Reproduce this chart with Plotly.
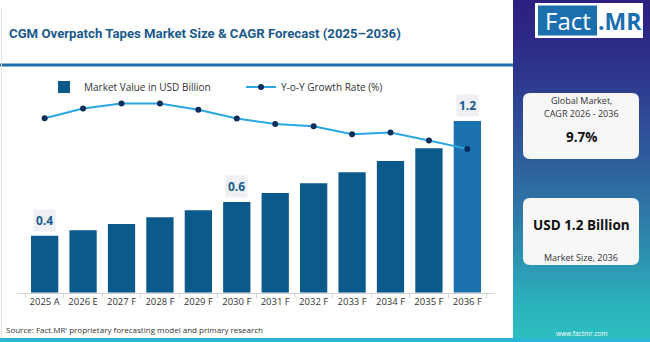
import plotly.graph_objects as go

W, H = 650, 342

# ---------------- data ----------------
years = ["2025 A", "2026 E", "2027 F", "2028 F", "2029 F", "2030 F",
         "2031 F", "2032 F", "2033 F", "2034 F", "2035 F", "2036 F"]
market_value = [0.399, 0.436, 0.480, 0.527, 0.576, 0.634,
                0.697, 0.765, 0.842, 0.921, 1.010, 1.201]
yoy_growth = [9.53, 10.17, 10.5, 10.5, 10.1, 9.51,
              9.15, 9.0, 8.47, 8.58, 8.05, 7.5]
labelled = {"2025 A": "0.4", "2030 F": "0.6", "2036 F": "1.2"}
cagr_text = "9.7%"
size_text = "USD 1.2 Billion"


def px(x):
    return x / W


def py(y):
    return 1 - y / H


def lerp_hex(c1, c2, t):
    a = [int(c1[i:i + 2], 16) for i in (1, 3, 5)]
    b = [int(c2[i:i + 2], 16) for i in (1, 3, 5)]
    return "#" + "".join(f"{round(a[k] + (b[k] - a[k]) * t):02x}" for k in range(3))


FONT = "Open Sans"
DARK = "#0c5a8c"
LIGHT = "#1b72ae"

bar_colors = [DARK] * (len(years) - 1) + [LIGHT]

fig = go.Figure()
fig.add_trace(go.Bar(
    x=years, y=market_value, name="Market Value in USD Billion",
    marker=dict(color=bar_colors, line=dict(width=0)),
    hoverinfo="skip",
))
fig.add_trace(go.Scatter(
    x=years, y=yoy_growth, name="Y-o-Y Growth Rate (%)", yaxis="y2",
    mode="lines+markers",
    line=dict(color="#2aa6e2", width=2),
    marker=dict(color="#0d2d5c", size=6),
    hoverinfo="skip",
))

shapes = []
# right panel gradient
stops = [(0, "#2b1f80"), (50, "#2d2c88"), (120, "#2f4b97"), (180, "#2e67a0"),
         (250, "#2d8dae"), (300, "#2bafbc"), (342, "#2cc0c0")]
step = 2
for y0 in range(0, 342, step):
    yc = y0 + step / 2
    for (a, ca), (b, cb) in zip(stops[:-1], stops[1:]):
        if a <= yc <= b:
            col = lerp_hex(ca, cb, (yc - a) / (b - a))
            break
    shapes.append(dict(type="rect", xref="paper", yref="paper",
                       x0=px(513), x1=1, y0=py(y0 + step + 0.5), y1=py(y0),
                       fillcolor=col, line=dict(width=0), layer="below"))

# title underline
shapes.append(dict(type="line", xref="paper", yref="paper",
                   x0=0, x1=px(513), y0=py(65), y1=py(65),
                   line=dict(color="#1f6fa8", width=3)))
# faint left border
shapes.append(dict(type="line", xref="paper", yref="paper",
                   x0=px(1.5), x1=px(1.5), y0=py(8), y1=py(338),
                   line=dict(color="#e3e3e3", width=1)))
# bottom stripe
shapes.append(dict(type="rect", xref="paper", yref="paper",
                   x0=0, x1=1, y0=0, y1=py(338),
                   fillcolor="#2bb4d4", line=dict(width=0)))


def rounded_rect(x0, y0, x1, y1, r):
    X0, X1 = px(x0), px(x1)
    return dict(type="path", xref="paper", yref="paper",
                path=(f"M {X0 + px(r)},{py(y0)} L {X1 - px(r)},{py(y0)} "
                      f"Q {X1},{py(y0)} {X1},{py(y0 + r)} L {X1},{py(y1 - r)} "
                      f"Q {X1},{py(y1)} {X1 - px(r)},{py(y1)} L {X0 + px(r)},{py(y1)} "
                      f"Q {X0},{py(y1)} {X0},{py(y1 - r)} L {X0},{py(y0 + r)} "
                      f"Q {X0},{py(y0)} {X0 + px(r)},{py(y0)} Z"),
                fillcolor="#f7f7f8", line=dict(width=0))


shapes.append(rounded_rect(523, 93, 639, 159, 7))
shapes.append(rounded_rect(523, 198, 639, 265, 7))
# logo
shapes.append(dict(type="rect", xref="paper", yref="paper",
                   x0=px(535), x1=px(643), y0=py(38), y1=py(3),
                   fillcolor="white", line=dict(width=0)))
shapes.append(dict(type="rect", xref="paper", yref="paper",
                   x0=px(538), x1=px(597), y0=py(35.5), y1=py(5.5),
                   fillcolor="#1b6fae", line=dict(width=0)))

ann = []
for yr, v in zip(years, market_value):
    if yr in labelled:
        ann.append(dict(text=f"<b>{labelled[yr]}</b>", x=yr, y=v, xref="x", yref="y",
                        yanchor="bottom", yshift=4, showarrow=False,
                        bgcolor="#eef0f3", borderpad=2,
                        font=dict(family=FONT, size=12, color="#1b5a8c")))
cx = px(581)
paper_ann = [
    dict(text="<b>CGM Overpatch Tapes Market Size &amp; CAGR Forecast (2025–2036)</b>",
         x=px(7), y=py(34), xanchor="left",
         font=dict(family="Roboto", size=13.2, color="#1b5a8c")),
    dict(text="Source: Fact.MR' proprietary forecasting model and primary research",
         x=px(4), y=py(329), xanchor="left",
         font=dict(family=FONT, size=8, color="#333333")),
    dict(text="Fact", x=px(567.5), y=py(21), font=dict(family=FONT, size=24, color="white")),
    dict(text="<b>.MR</b>", x=px(620), y=py(21), font=dict(family=FONT, size=23, color="#1b6fae")),
    dict(text="Global Market,", x=cx, y=py(101), font=dict(family=FONT, size=9, color="#333333")),
    dict(text="CAGR 2026 - 2036", x=cx, y=py(113.5), font=dict(family=FONT, size=9, color="#333333")),
    dict(text=f"<b>{cagr_text}</b>", x=cx, y=py(137), font=dict(family=FONT, size=13.5, color="#111111")),
    dict(text=f"<b>{size_text}</b>", x=cx, y=py(225), font=dict(family=FONT, size=13.5, color="#111111")),
    dict(text="Market Size, 2036", x=cx, y=py(257), font=dict(family=FONT, size=9, color="#333333")),
    dict(text="www.factmr.com", x=cx, y=py(333), font=dict(family=FONT, size=6.5, color="white")),
]
for a in paper_ann:
    a.setdefault("xanchor", "center")
    a.update(xref="paper", yref="paper", yanchor="middle", showarrow=False)
ann += paper_ann

fig.update_layout(
    width=W, height=H, margin=dict(l=0, r=0, t=0, b=0),
    paper_bgcolor="white", plot_bgcolor="rgba(0,0,0,0)",
    bargap=0.29,
    showlegend=True,
    legend=dict(orientation="h", x=px(44), y=py(87), xanchor="left", yanchor="middle",
                font=dict(family=FONT, size=10, color="#333333"),
                bgcolor="rgba(0,0,0,0)", entrywidth=152),
    xaxis=dict(domain=[px(17), px(495)], showgrid=False, showline=True,
               linecolor="#d4d4d4", linewidth=1, ticks="outside", tickson="boundaries",
               ticklen=4, tickcolor="#d4d4d4", tickangle=0, automargin=False,
               tickfont=dict(family=FONT, size=9.5, color="#333333")),
    yaxis=dict(domain=[py(292.7), py(100)], range=[0, 1.3476], visible=False,
               showgrid=False, zeroline=False),
    yaxis2=dict(overlaying="y", range=[-2.03, 10.74], visible=False,
                showgrid=False, zeroline=False),
    shapes=shapes, annotations=ann,
)

fig.write_html("out.html")
